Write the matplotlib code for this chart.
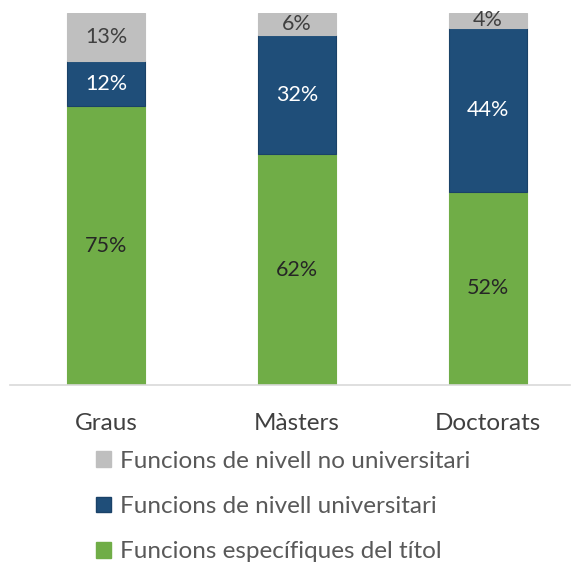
import numpy as np
import matplotlib.pyplot as plt
from matplotlib.patches import Patch

plt.rcParams['font.family'] = ['Lato', 'DejaVu Sans']

categories = ['Graus', 'Màsters', 'Doctorats']
especifiques = [75, 62, 52]
universitari = [12, 32, 44]
no_universitari = [13, 6, 4]

series_names = ['Funcions específiques del títol',
                'Funcions de nivell universitari',
                'Funcions de nivell no universitari']
colors = ['#70AD47', '#1F4E79', '#BFBFBF']
label_colors = ['#262626', 'white', '#404040']

fig = plt.figure(figsize=(5.74, 5.68), dpi=100)
ax = fig.add_axes([10 / 574, 1 - 385 / 568, 560 / 574, 372 / 568])

x = np.arange(len(categories))
width = 0.41
bottom = np.zeros(len(categories))
for vals, col, lcol in zip([especifiques, universitari, no_universitari], colors, label_colors):
    vals = np.array(vals)
    ax.bar(x, vals, width, bottom=bottom, color=col,
           edgecolor='#1A4268' if col == '#1F4E79' else col, linewidth=0.8)
    for xi, b, v in zip(x, bottom, vals):
        ax.text(xi, b + v / 2, f'{v}%', ha='center', va='center',
                fontsize=15.5, color=lcol)
    bottom += vals

ax.set_xlim(-0.503, 2.43)
ax.set_ylim(0, 100)
ax.set_yticks([])
ax.set_xticks(x)
ax.set_xticklabels(categories, fontsize=17.5, color='#404040')
ax.tick_params(axis='x', length=0, pad=20)
for s in ['top', 'right', 'left']:
    ax.spines[s].set_visible(False)
ax.spines['bottom'].set_color('#D9D9D9')
ax.spines['bottom'].set_linewidth(1.2)

handles = [Patch(facecolor=c, edgecolor='#1A4268' if c == '#1F4E79' else c)
           for c in colors[::-1]]
fig.legend(handles, series_names[::-1], loc='upper left',
           bbox_to_anchor=(86 / 574, 1 - 441 / 568), frameon=False,
           fontsize=17.5, labelcolor='#595959', handlelength=0.62,
           handleheight=0.62, handletextpad=0.37, labelspacing=1.0,
           borderaxespad=0)

fig.savefig('out.png', dpi=100)
